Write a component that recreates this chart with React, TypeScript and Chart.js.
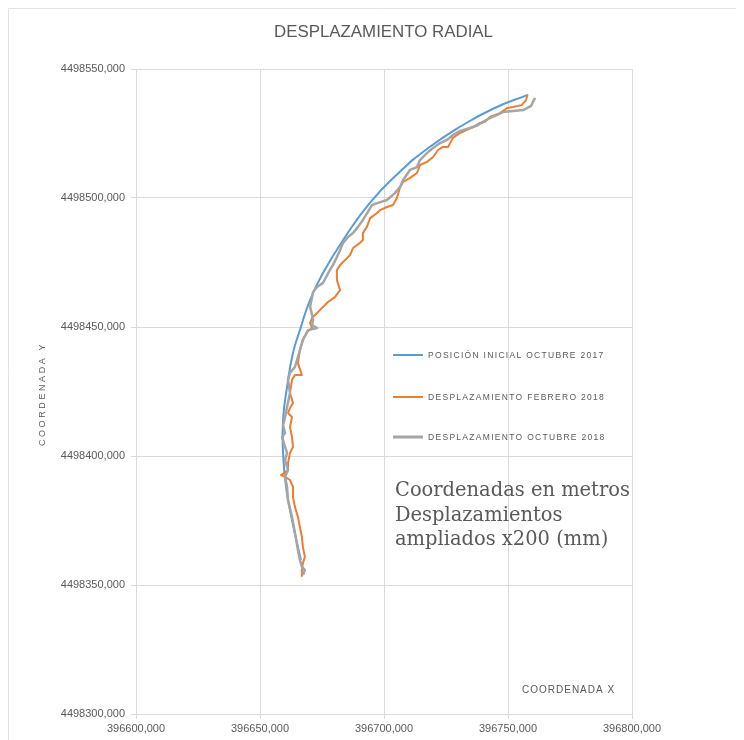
import React, { useEffect, useRef } from "react";
import { Chart, registerables } from "chart.js";

Chart.register(...registerables);

const TITLE = "DESPLAZAMIENTO RADIAL";
const X_TITLE = "COORDENADA X";
const Y_TITLE = "COORDENADA Y";
const NOTE_LINES = ["Coordenadas en metros", "Desplazamientos", "ampliados x200 (mm)"];
const SERIES_LABELS = [
  "POSICIÓN INICIAL OCTUBRE 2017",
  "DESPLAZAMIENTO FEBRERO 2018",
  "DESPLAZAMIENTO OCTUBRE 2018",
];
const SERIES_COLORS = ["#5B9BD5", "#ED7D31", "#A5A5A5"];

const X_MIN = 396600;
const X_MAX = 396800;
const X_STEP = 50;
const Y_MIN = 4498300;
const Y_MAX = 4498550;
const Y_STEP = 50;

// Posición inicial octubre 2017
const blueX = [
  396757.7, 396744.2, 396731.5, 396717.7, 396706.2, 396694.3, 396683.5, 396675.4, 396670.2,
  396666.1, 396663.3, 396660.9, 396659.3, 396659.3, 396660.5, 396662.9, 396666.5,
];
const blueY = [
  4498539.9, 4498534.7, 4498528.1, 4498519.3, 4498510.0, 4498498.1, 4498483.7, 4498470.9, 4498460.5,
  4498448.8, 4498439.9, 4498426.7, 4498414.0, 4498401.2, 4498388.0, 4498375.2, 4498359.7,
];

// Desplazamiento febrero 2018
const orangeX = [
  396757.9, 396757.3, 396755.5, 396752.0, 396749.6, 396746.8, 396744.8, 396742.7, 396740.7, 396738.7,
  396735.9, 396733.5, 396730.6, 396727.8, 396725.8, 396723.8, 396721.8, 396719.8, 396717.3, 396714.5,
  396713.3, 396710.5, 396707.7, 396706.5, 396705.2, 396703.6, 396701.2, 396698.4, 396697.2, 396694.4,
  396693.1, 396691.5, 396691.5, 396690.3, 396687.5, 396686.3, 396685.1, 396683.5, 396682.3, 396681.0,
  396681.0, 396682.3, 396680.2, 396677.4, 396675.0, 396673.0, 396671.0, 396670.2, 396671.0, 396669.0,
  396667.3, 396666.1, 396665.3, 396666.9, 396664.1, 396662.9, 396662.1, 396663.3, 396662.1, 396661.3,
  396662.9, 396662.1, 396662.9, 396663.3, 396662.1, 396661.3, 396661.3, 396658.5, 396660.1, 396662.1,
  396663.3, 396663.3, 396664.1, 396665.3, 396666.1, 396666.9, 396667.3, 396668.1, 396667.3, 396666.9,
  396666.9,
];
const orangeY = [
  4498540.2, 4498538.0, 4498536.0, 4498535.3, 4498534.9, 4498532.9, 4498532.2, 4498531.4, 4498529.5, 4498529.1,
  4498527.5, 4498526.4, 4498525.2, 4498523.3, 4498519.8, 4498519.8, 4498518.6, 4498515.9, 4498514.0, 4498512.8,
  4498509.7, 4498507.8, 4498506.2, 4498504.3, 4498500.0, 4498497.3, 4498496.5, 4498495.3, 4498494.2, 4498492.2,
  4498488.8, 4498486.4, 4498483.7, 4498482.6, 4498480.6, 4498477.9, 4498476.7, 4498475.2, 4498474.0, 4498472.1,
  4498468.2, 4498464.3, 4498461.6, 4498459.7, 4498457.4, 4498455.4, 4498453.5, 4498451.5, 4498449.6, 4498448.1,
  4498445.0, 4498441.1, 4498436.0, 4498431.4, 4498431.4, 4498429.5, 4498424.4, 4498420.5, 4498418.6, 4498416.7,
  4498415.1, 4498411.2, 4498407.4, 4498403.5, 4498401.2, 4498397.3, 4498394.6, 4498392.6, 4498391.9, 4498390.7,
  4498388.0, 4498384.1, 4498380.2, 4498376.4, 4498372.5, 4498368.6, 4498364.7, 4498360.9, 4498358.5, 4498355.8,
  4498353.5,
];

// Desplazamiento octubre 2018
const grayX = [
  396760.9, 396759.3, 396756.1, 396752.0, 396748.0, 396745.6, 396742.7, 396739.9, 396737.9, 396735.9,
  396733.1, 396730.6, 396727.8, 396725.4, 396722.6, 396719.8, 396717.3, 396714.5, 396713.3, 396710.5,
  396707.7, 396706.5, 396704.4, 396701.2, 396697.6, 396695.2, 396693.5, 396691.5, 396689.5, 396687.5,
  396685.5, 396683.5, 396682.3, 396681.0, 396679.4, 396678.2, 396675.4, 396673.0, 396671.4, 396671.0,
  396670.2, 396671.0, 396671.4, 396671.0, 396673.0, 396669.4, 396667.3, 396665.3, 396664.1, 396662.1,
  396661.3, 396662.1, 396660.9, 396660.1, 396659.3, 396660.1, 396658.9, 396660.1, 396660.9, 396660.1,
  396661.3, 396660.1, 396660.9, 396661.3, 396662.9, 396664.1, 396665.3, 396666.1, 396666.9, 396668.1,
  396667.3,
];
const grayY = [
  4498538.8, 4498535.7, 4498534.1, 4498533.7, 4498533.3, 4498532.2, 4498531.0, 4498529.5, 4498528.3, 4498527.5,
  4498526.7, 4498526.0, 4498524.4, 4498522.5, 4498521.3, 4498519.4, 4498517.4, 4498514.7, 4498512.0, 4498510.9,
  4498507.0, 4498504.3, 4498501.9, 4498499.2, 4498498.1, 4498497.3, 4498494.6, 4498491.5, 4498488.8, 4498486.4,
  4498484.9, 4498482.6, 4498479.8, 4498477.1, 4498474.0, 4498472.1, 4498467.1, 4498465.5, 4498463.6, 4498461.6,
  4498457.8, 4498454.7, 4498452.7, 4498450.8, 4498449.6, 4498448.8, 4498445.0, 4498438.4, 4498434.5, 4498432.2,
  4498429.5, 4498424.4, 4498419.0, 4498415.1, 4498412.0, 4498408.9, 4498407.4, 4498403.5, 4498401.2, 4498398.4,
  4498394.6, 4498391.9, 4498388.0, 4498382.9, 4498376.4, 4498370.2, 4498363.6, 4498359.7, 4498357.0, 4498355.8,
  4498353.9,
];

const zip = (xs: number[], ys: number[]) => xs.map((x, i) => ({ x, y: ys[i] }));

const TEXT_COLOR = "#595959";
const GRID_COLOR = "#d9d9d9";
const SANS = '"Liberation Sans", Arial, sans-serif';
const SERIF = '"DejaVu Serif", Georgia, serif';

function fitSize(ctx: CanvasRenderingContext2D, text: string, family: string, target: number, base: number, spacing = 0) {
  ctx.font = `${base}px ${family}`;
  (ctx as any).letterSpacing = `${spacing}px`;
  const w = ctx.measureText(text).width;
  return (base * target) / w;
}

const decorPlugin = {
  id: "decor",
  afterDraw(chart: any) {
    const ctx: CanvasRenderingContext2D = chart.ctx;
    ctx.save();
    // outer frame
    ctx.strokeStyle = "#e3e3e3";
    ctx.lineWidth = 1;
    ctx.beginPath();
    ctx.moveTo(0.5, chart.height);
    ctx.lineTo(0.5, 0.5);
    ctx.lineTo(chart.width, 0.5);
    ctx.stroke();

    ctx.fillStyle = TEXT_COLOR;
    // title
    const ts = fitSize(ctx, TITLE, SANS, 219, 16);
    ctx.font = `${ts}px ${SANS}`;
    (ctx as any).letterSpacing = "0px";
    ctx.textAlign = "center";
    ctx.textBaseline = "middle";
    ctx.fillText(TITLE, 375.5, 24);

    // y axis title
    ctx.save();
    ctx.translate(34.5, 386);
    ctx.rotate(-Math.PI / 2);
    ctx.font = `9px ${SANS}`;
    (ctx as any).letterSpacing = "2.6px";
    ctx.textAlign = "center";
    ctx.fillText(Y_TITLE, 0, 0);
    ctx.restore();

    // x axis title
    ctx.font = `10px ${SANS}`;
    (ctx as any).letterSpacing = "1px";
    ctx.textAlign = "left";
    ctx.fillText(X_TITLE, 514, 682);

    // legend
    const legendY = [347, 389, 429];
    SERIES_LABELS.forEach((label, i) => {
      ctx.strokeStyle = SERIES_COLORS[i];
      ctx.lineWidth = i === 2 ? 3 : 2;
      ctx.beginPath();
      ctx.moveTo(385, legendY[i]);
      ctx.lineTo(415, legendY[i]);
      ctx.stroke();
      ctx.font = `8.5px ${SANS}`;
      (ctx as any).letterSpacing = "1.3px";
      ctx.fillStyle = TEXT_COLOR;
      ctx.textAlign = "left";
      ctx.fillText(label, 420, legendY[i] + 0.5);
    });

    // note
    const ns = fitSize(ctx, NOTE_LINES[0], SERIF, 235, 20);
    ctx.font = `${ns}px ${SERIF}`;
    (ctx as any).letterSpacing = "0px";
    ctx.fillStyle = TEXT_COLOR;
    ctx.textAlign = "left";
    const noteY = [483, 507.5, 532];
    NOTE_LINES.forEach((line, i) => ctx.fillText(line, 387, noteY[i]));
    ctx.restore();
  },
};

export default function App() {
  const ref = useRef<HTMLCanvasElement | null>(null);

  useEffect(() => {
    if (!ref.current) return;
    const chart = new Chart(ref.current, {
      type: "scatter",
      data: {
        datasets: [
          {
            label: SERIES_LABELS[0],
            data: zip(blueX, blueY),
            showLine: true,
            borderColor: SERIES_COLORS[0],
            backgroundColor: SERIES_COLORS[0],
            borderWidth: 2,
            pointRadius: 0,
            tension: 0.5,
            order: 3,
          },
          {
            label: SERIES_LABELS[1],
            data: zip(orangeX, orangeY),
            showLine: true,
            borderColor: SERIES_COLORS[1],
            backgroundColor: SERIES_COLORS[1],
            borderWidth: 2,
            pointRadius: 0,
            tension: 0,
            borderJoinStyle: "round",
            order: 2,
          },
          {
            label: SERIES_LABELS[2],
            data: zip(grayX, grayY),
            showLine: true,
            borderColor: SERIES_COLORS[2],
            backgroundColor: SERIES_COLORS[2],
            borderWidth: 2.5,
            pointRadius: 0,
            tension: 0,
            borderJoinStyle: "round",
            order: 1,
          },
        ],
      },
      options: {
        responsive: false,
        animation: false,
        events: [],
        layout: { padding: { top: 61, right: 112, left: 0, bottom: 0 } },
        plugins: {
          legend: { display: false },
          title: { display: false },
          tooltip: { enabled: false },
        },
        scales: {
          x: {
            type: "linear",
            min: X_MIN,
            max: X_MAX,
            ticks: {
              stepSize: X_STEP,
              color: TEXT_COLOR,
              font: { size: 11, family: SANS },
              padding: 3,
              maxRotation: 0,
              callback: (v: any) => `${Math.round(Number(v))},000`,
            },
            grid: { color: GRID_COLOR, tickLength: 5, lineWidth: 1 },
            border: { color: GRID_COLOR },
            afterFit: (scale: any) => {
              scale.height = 26;
            },
          },
          y: {
            type: "linear",
            min: Y_MIN,
            max: Y_MAX,
            ticks: {
              stepSize: Y_STEP,
              color: TEXT_COLOR,
              font: { size: 11, family: SANS },
              padding: 6,
              callback: (v: any) => `${Math.round(Number(v))},000`,
            },
            grid: { color: GRID_COLOR, tickLength: 5, lineWidth: 1 },
            border: { color: GRID_COLOR },
            afterFit: (scale: any) => {
              scale.width = 128;
            },
          },
        },
      },
      plugins: [decorPlugin],
    });
    return () => chart.destroy();
  }, []);

  return (
    <div style={{ width: 736, height: 732 }}>
      <canvas ref={ref} width={736} height={732} />
    </div>
  );
}
